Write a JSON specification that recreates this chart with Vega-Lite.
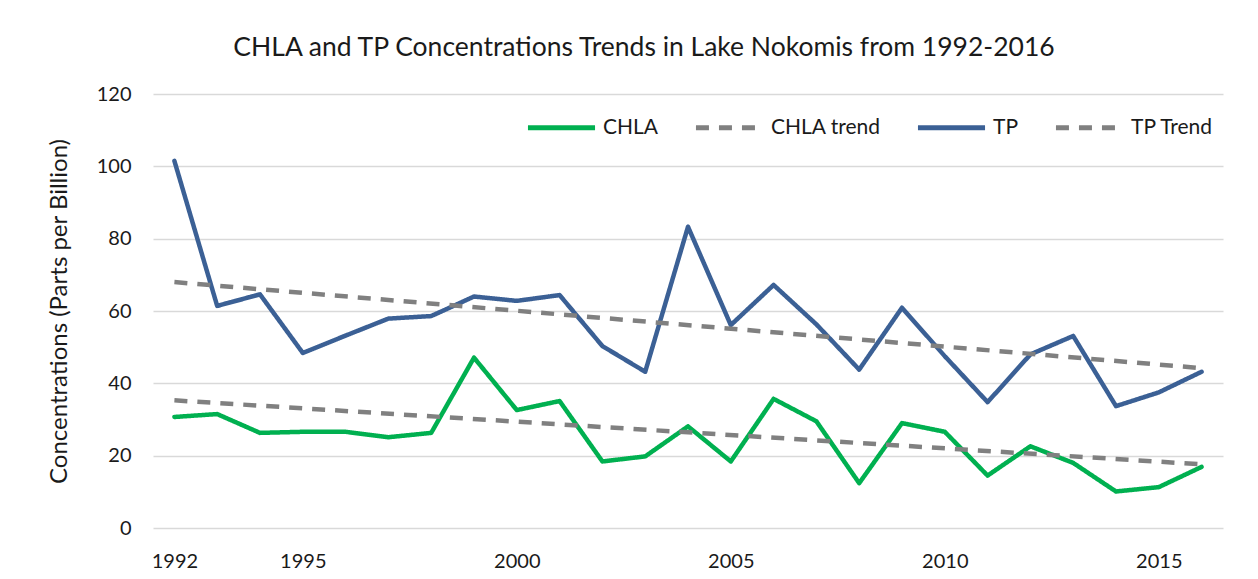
{
  "$schema": "https://vega.github.io/schema/vega-lite/v6.json",
  "width": 1070,
  "height": 434,
  "autosize": {"type": "none"},
  "padding": {"left": 153, "top": 94, "right": 35, "bottom": 51},
  "background": "white",
  "title": {
    "text": "CHLA and TP Concentrations Trends in Lake Nokomis from 1992-2016",
    "font": "Lato",
    "fontSize": 26.5,
    "fontWeight": "normal",
    "color": "#1a1a1a",
    "anchor": "middle",
    "frame": "group",
    "dx": -44,
    "baseline": "alphabetic",
    "offset": 2
  },
  "config": {
    "font": "Lato",
    "view": {"stroke": null},
    "axis": {"labelFont": "Lato", "titleFont": "Lato", "labelColor": "#1a1a1a", "titleColor": "#1a1a1a"}
  },
  "data": {
    "values": [
      {"year": 1992, "series": "CHLA", "value": 30.7},
      {"year": 1993, "series": "CHLA", "value": 31.5},
      {"year": 1994, "series": "CHLA", "value": 26.3},
      {"year": 1995, "series": "CHLA", "value": 26.6},
      {"year": 1996, "series": "CHLA", "value": 26.6},
      {"year": 1997, "series": "CHLA", "value": 25.1},
      {"year": 1998, "series": "CHLA", "value": 26.3},
      {"year": 1999, "series": "CHLA", "value": 47.1},
      {"year": 2000, "series": "CHLA", "value": 32.6},
      {"year": 2001, "series": "CHLA", "value": 35.1},
      {"year": 2002, "series": "CHLA", "value": 18.4},
      {"year": 2003, "series": "CHLA", "value": 19.8},
      {"year": 2004, "series": "CHLA", "value": 28.1},
      {"year": 2005, "series": "CHLA", "value": 18.4},
      {"year": 2006, "series": "CHLA", "value": 35.7},
      {"year": 2007, "series": "CHLA", "value": 29.5},
      {"year": 2008, "series": "CHLA", "value": 12.4},
      {"year": 2009, "series": "CHLA", "value": 29.0},
      {"year": 2010, "series": "CHLA", "value": 26.6},
      {"year": 2011, "series": "CHLA", "value": 14.5},
      {"year": 2012, "series": "CHLA", "value": 22.6},
      {"year": 2013, "series": "CHLA", "value": 18.0},
      {"year": 2014, "series": "CHLA", "value": 10.1},
      {"year": 2015, "series": "CHLA", "value": 11.3},
      {"year": 2016, "series": "CHLA", "value": 16.9},
      {"year": 1992, "series": "TP", "value": 101.5},
      {"year": 1993, "series": "TP", "value": 61.4},
      {"year": 1994, "series": "TP", "value": 64.6},
      {"year": 1995, "series": "TP", "value": 48.4},
      {"year": 1996, "series": "TP", "value": 53.2},
      {"year": 1997, "series": "TP", "value": 57.9},
      {"year": 1998, "series": "TP", "value": 58.6},
      {"year": 1999, "series": "TP", "value": 64.0},
      {"year": 2000, "series": "TP", "value": 62.8},
      {"year": 2001, "series": "TP", "value": 64.4},
      {"year": 2002, "series": "TP", "value": 50.3},
      {"year": 2003, "series": "TP", "value": 43.2},
      {"year": 2004, "series": "TP", "value": 83.3},
      {"year": 2005, "series": "TP", "value": 56.1},
      {"year": 2006, "series": "TP", "value": 67.2},
      {"year": 2007, "series": "TP", "value": 56.3},
      {"year": 2008, "series": "TP", "value": 43.8},
      {"year": 2009, "series": "TP", "value": 60.9},
      {"year": 2010, "series": "TP", "value": 47.5},
      {"year": 2011, "series": "TP", "value": 34.8},
      {"year": 2012, "series": "TP", "value": 48.0},
      {"year": 2013, "series": "TP", "value": 53.1},
      {"year": 2014, "series": "TP", "value": 33.7},
      {"year": 2015, "series": "TP", "value": 37.5},
      {"year": 2016, "series": "TP", "value": 43.2},
      {"year": 1992, "series": "CHLA trend", "value": 35.3},
      {"year": 2016, "series": "CHLA trend", "value": 17.6},
      {"year": 1992, "series": "TP Trend", "value": 68.0},
      {"year": 2016, "series": "TP Trend", "value": 44.2}
    ]
  },
  "encoding": {
    "x": {
      "field": "year",
      "type": "quantitative",
      "scale": {"domain": [1991.5, 2016.5], "nice": false, "zero": false},
      "axis": {
        "title": null,
        "values": [1992, 1995, 2000, 2005, 2010, 2015],
        "format": "d",
        "grid": false,
        "domain": false,
        "ticks": false,
        "labelFontSize": 20,
        "labelPadding": 23,
        "labelFlush": false
      }
    },
    "y": {
      "field": "value",
      "type": "quantitative",
      "scale": {"domain": [0, 120], "nice": false},
      "axis": {
        "title": "Concentrations (Parts per Billion)",
        "values": [0, 20, 40, 60, 80, 100, 120],
        "grid": true,
        "gridColor": "#D9D9D9",
        "gridWidth": 1.5,
        "domain": false,
        "ticks": false,
        "labelFontSize": 20,
        "labelPadding": 22,
        "titleFontSize": 24,
        "titleFontWeight": "normal",
        "titlePadding": 25
      }
    },
    "color": {
      "field": "series",
      "type": "nominal",
      "scale": {
        "domain": ["CHLA", "CHLA trend", "TP", "TP Trend"],
        "range": ["#00B050", "#808080", "#3B6095", "#808080"]
      },
      "legend": {
        "title": null,
        "orient": "none",
        "legendX": 372,
        "legendY": -3,
        "direction": "horizontal",
        "columns": 4,
        "symbolType": "stroke",
        "symbolSize": 4500,
        "symbolStrokeWidth": 5,
        "labelFontSize": 21,
        "labelFont": "Lato",
        "labelColor": "#1a1a1a",
        "labelOffset": 5,
        "columnPadding": 26,
        "labelLimit": 300
      }
    },
    "strokeDash": {
      "field": "series",
      "type": "nominal",
      "scale": {
        "domain": ["CHLA", "CHLA trend", "TP", "TP Trend"],
        "range": [[1, 0], [13, 10], [1, 0], [13, 10]]
      },
      "legend": {
        "title": null,
        "orient": "none",
        "legendX": 372,
        "legendY": -3,
        "direction": "horizontal",
        "columns": 4,
        "symbolType": "stroke",
        "symbolSize": 4500,
        "symbolStrokeWidth": 5,
        "labelFontSize": 21,
        "labelFont": "Lato",
        "labelColor": "#1a1a1a",
        "labelOffset": 5,
        "columnPadding": 26,
        "labelLimit": 300
      }
    }
  },
  "layer": [
    {
      "transform": [{"filter": "datum.series === 'CHLA' || datum.series === 'TP'"}],
      "mark": {"type": "line", "strokeWidth": 4.5, "strokeJoin": "round", "strokeCap": "round"}
    },
    {
      "transform": [{"filter": "datum.series === 'CHLA trend' || datum.series === 'TP Trend'"}],
      "mark": {"type": "line", "strokeWidth": 4.5, "strokeCap": "butt"}
    }
  ]
}
